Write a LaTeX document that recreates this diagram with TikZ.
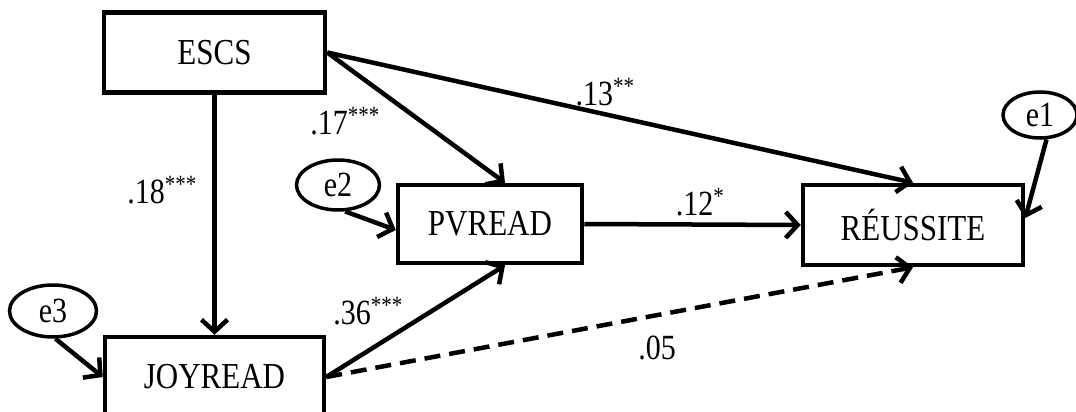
\documentclass[tikz,border=0pt]{standalone}
\usepackage{fontspec}
\usepackage{graphicx}
\setmainfont{Liberation Serif}
\usetikzlibrary{arrows.meta,shapes.geometric,calc}
\newcommand\tallt[1]{\scalebox{1}[1.18]{#1}}
\begin{document}
\begin{tikzpicture}[x=1pt,y=-1pt,
  box/.style={draw,line width=4.5pt,minimum width=#1,minimum height=80pt,inner sep=0pt,font=\fontsize{31}{33}\selectfont},
  err/.style={draw,ellipse,line width=3.5pt,inner sep=0pt,font=\fontsize{30}{32}\selectfont},
  arr/.style={line width=4.5pt,-{Straight Barb[length=12pt,width=26pt]}},
  dash5/.style={dash pattern=on 16pt off 9pt},
  lbl/.style={font=\fontsize{30}{32}\selectfont,inner sep=0pt}]
\useasboundingbox (0,0) rectangle (1076,412);
\node[box=221pt] (ES) at (214.5,52.5) {\tallt{ESCS}};
\node[box=184pt,minimum height=78pt] (PV) at (490,224) {\tallt{PVREAD}};
\node[box=220pt] (RE) at (913,225) {\tallt{RÉUSSITE}};
\node[box=219pt] (JOY) at (214.5,377) {\tallt{JOYREAD}};
\node[err,minimum width=83pt,minimum height=50pt] (e2) at (338,185) {\tallt{e2}};
\node[err,minimum width=87pt,minimum height=52pt] (e3) at (53,311) {\tallt{e3}};
\node[err,minimum width=74pt,minimum height=46pt] (e1) at (1040,115) {\tallt{e1}};
\draw[arr] (ES.east) -- ($(PV.north)+(15,0)$);
\draw[arr] (ES.east) -- (RE.north);
\draw[arr] (ES.south) -- (JOY.north);
\draw[arr] (PV.east) -- (RE.west);
\draw[arr] (JOY.east) -- ($(PV.south)+(15,0)$);
\draw[arr,dash5] (JOY.east) -- (RE.south);
\draw[arr] (e2.-75) -- ($(PV.west)+(0,6)$);
\draw[arr] (e3.-85) -- (JOY.west);
\draw[arr] (e1.-75) -- ($(RE.east)+(0,-7)$);
\node[lbl] (l13) at (605,92) {\tallt{.13\textsuperscript{**}}};
\node[lbl] (l17) at (345,121) {\tallt{.17\textsuperscript{***}}};
\node[lbl] (l18) at (162,190) {\tallt{.18\textsuperscript{***}}};
\node[lbl] (l12) at (700,202) {\tallt{.12\textsuperscript{*}}};
\node[lbl] (l36) at (368,311) {\tallt{.36\textsuperscript{***}}};
\node[lbl] (l05) at (657,348) {\tallt{.05}};
\end{tikzpicture}
\end{document}
